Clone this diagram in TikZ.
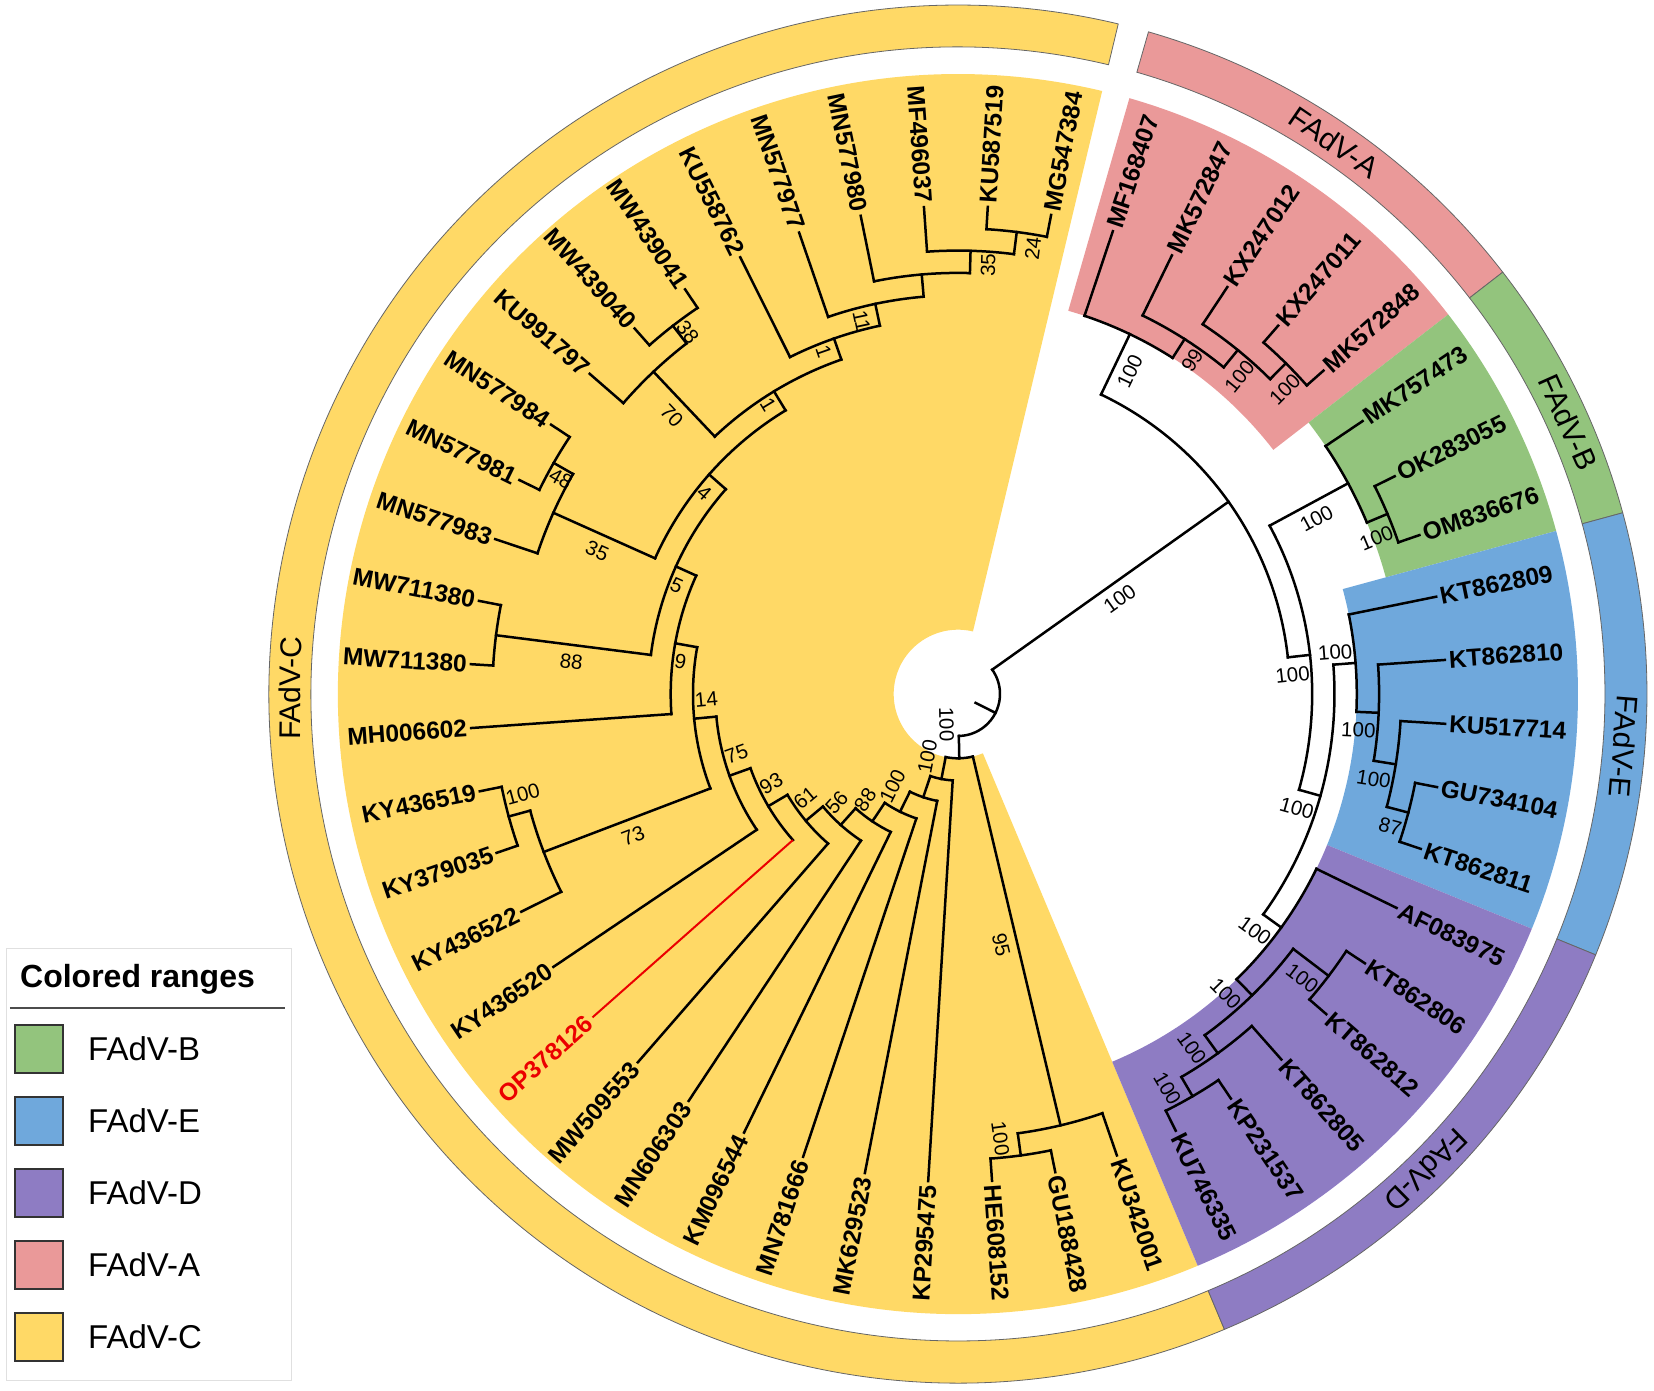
\documentclass[tikz,border=0pt]{standalone}
\usepackage{fontspec}
\setmainfont{Liberation Sans}
\usetikzlibrary{calc}
\definecolor{cA}{RGB}{234,153,153}
\definecolor{cB}{RGB}{147,196,125}
\definecolor{cC}{RGB}{255,217,102}
\definecolor{cD}{RGB}{142,124,195}
\definecolor{cE}{RGB}{111,168,220}
\definecolor{opred}{RGB}{235,0,0}
\tikzset{
 br/.style={line width=2.5pt, line cap=rect, black},
 lbl/.style={font=\fontsize{24.5}{28}\selectfont\bfseries, inner sep=0pt},
 bsl/.style={font=\fontsize{20.5}{24}\selectfont, inner sep=0pt},
 rlbl/.style={font=\fontsize{30}{34}\selectfont, inner sep=0pt},
 ringseg/.style={draw=black!60, line width=0.8pt},
 legtxt/.style={font=\fontsize{33}{38}\selectfont, inner sep=0pt, anchor=west},
 swatch/.style={draw=black!80, line width=1.5pt},
}
% arc of an internal node: from angle #1 to angle #2 at radius #3
\newcommand\brArc[3]{\draw[br] (#1:#3pt) arc[start angle=#1, end angle=#2, radius=#3pt];}
% radial stem at angle #1 from radius #2 to radius #3
\newcommand\brStem[3]{\draw[br] (#1:#2pt) -- (#1:#3pt);}
% leaf: name, angle, parent radius, text, flip
\newcommand\leafL[5]{\draw[br] (#2:#3pt) -- (#2:488pt);
 \ifnum#5=0 \node[lbl,rotate=#2,anchor=west] (#1) at (#2:492pt) {#4};
 \else \node[lbl,rotate=#2+180,anchor=east] (#1) at (#2:492pt) {#4};\fi}
% support value: angle, radius, text, rotation, offset direction, offset
\newcommand\bsLab[6]{\node[bsl,rotate=#4] at ($(#1:#2pt)+({#5}:#6pt)$) {#3};}
% annular sector: angle from, angle to, inner r, outer r
\newcommand\sector[4]{(#1:#3pt) arc[start angle=#1, end angle=#2, radius=#3pt] -- (#2:#4pt) arc[start angle=#2, end angle=#1, radius=#4pt] -- cycle}
\begin{document}
\begin{tikzpicture}[x=1pt,y=1pt]
\useasboundingbox (-958,-697) rectangle (696,694);
\fill[white] (-958,-697) rectangle (696,694);
% inner coloured ranges
\fill[cC] \sector{-283.45}{-67.25}{64.3}{620};
\fill[cA] \sector{37.75}{73.95}{398.8}{620};
\fill[cB] \sector{15.25}{37.75}{443.4}{620};
\fill[cE] \sector{-22.25}{15.25}{398.8}{620};
\fill[cD] \sector{-67.25}{-22.25}{398.8}{620};
% outer ring
\filldraw[ringseg, fill=cC] \sector{-283.45}{-67.25}{647}{689};
\filldraw[ringseg, fill=cA] \sector{37.75}{73.95}{647}{689};
\filldraw[ringseg, fill=cB] \sector{15.25}{37.75}{647}{689};
\filldraw[ringseg, fill=cE] \sector{-22.25}{15.25}{647}{689};
\filldraw[ringseg, fill=cD] \sector{-67.25}{-22.25}{647}{689};
\node[rlbl, rotate=89.5] (ringC) at (179.5:668pt) {FAdV-C};
\node[rlbl, rotate=-34.3] (ringA) at (55.7:668pt) {FAdV-A};
\node[rlbl, rotate=-66] (ringB) at (24:668pt) {FAdV-B};
\node[rlbl, rotate=-94.5] (ringE) at (-4.5:668pt) {FAdV-E};
\node[rlbl, rotate=-135.5] (ringD) at (-45.5:668pt) {FAdV-D};
% root
\brStem{-26.72}{19.7}{42}
\brArc{-88.84}{35.40}{42}
% ABED
\brStem{35.40}{42}{331.9}
\brArc{6.34}{64.47}{331.9}
% A
\brStem{64.47}{331.9}{398.8}
\brArc{57.4375}{71.5}{398.8}
\brStem{57.4375}{398.8}{421.1}
\brArc{50.875}{64}{421.1}
\brStem{50.875}{421.1}{443.4}
\brArc{45.25}{56.5}{443.4}
\brStem{45.25}{443.4}{465.7}
\brArc{41.5}{49}{465.7}
\leafL{l0}{71.5}{398.8}{MF168407}{0}
\leafL{l1}{64}{421.1}{MK572847}{0}
\leafL{l2}{56.5}{443.4}{KX247012}{0}
\leafL{l3}{49}{465.7}{KX247011}{0}
\leafL{l4}{41.5}{465.7}{MK572848}{0}
% BED
\brStem{6.34}{331.9}{354.2}
\brArc{-15.69}{28.375}{354.2}
\brStem{28.375}{354.2}{443.4}
\brArc{22.75}{34}{443.4}
\brStem{22.75}{443.4}{465.7}
\brArc{19}{26.5}{465.7}
\leafL{l5}{34}{443.4}{MK757473}{0}
\leafL{l6}{26.5}{465.7}{OK283055}{0}
\leafL{l7}{19}{465.7}{OM836676}{0}
% ED
\brStem{-15.69}{354.2}{376.5}
\brArc{-35.84}{4.469}{376.5}
% E
\brStem{4.469}{376.5}{398.8}
\brArc{-2.5625}{11.5}{398.8}
\brStem{-2.5625}{398.8}{421.1}
\brArc{-9.125}{4}{421.1}
\brStem{-9.125}{421.1}{443.4}
\brArc{-14.75}{-3.5}{443.4}
\brStem{-14.75}{443.4}{465.7}
\brArc{-18.5}{-11}{465.7}
\leafL{l8}{11.5}{398.8}{KT862809}{0}
\leafL{l9}{4}{421.1}{KT862810}{0}
\leafL{l10}{-3.5}{443.4}{KU517714}{0}
\leafL{l11}{-11}{465.7}{GU734104}{0}
\leafL{l12}{-18.5}{465.7}{KT862811}{0}
% D
\brStem{-35.84}{376.5}{398.8}
\brArc{-45.6875}{-26}{398.8}
\brStem{-45.6875}{398.8}{421.1}
\brArc{-54.125}{-37.25}{421.1}
\brStem{-37.25}{421.1}{465.7}
\brArc{-41}{-33.5}{465.7}
\brStem{-54.125}{421.1}{443.4}
\brArc{-59.75}{-48.5}{443.4}
\brStem{-59.75}{443.4}{465.7}
\brArc{-63.5}{-56}{465.7}
\leafL{l13}{-26}{398.8}{AF083975}{0}
\leafL{l14}{-33.5}{465.7}{KT862806}{0}
\leafL{l15}{-41}{465.7}{KT862812}{0}
\leafL{l16}{-48.5}{443.4}{KT862805}{0}
\leafL{l17}{-56}{465.7}{KP231537}{0}
\leafL{l18}{-63.5}{465.7}{KU746335}{0}
% C
\brStem{-88.84}{42}{64.3}
\brArc{-101.05}{-76.625}{64.3}
\brStem{-76.625}{64.3}{443.4}
\brArc{-82.25}{-71}{443.4}
\brStem{-82.25}{443.4}{465.7}
\brArc{-86}{-78.5}{465.7}
\leafL{l19}{-71}{443.4}{KU342001}{0}
\leafL{l20}{-78.5}{465.7}{GU188428}{0}
\leafL{l21}{-86}{465.7}{HE608152}{0}
% ladder
\brStem{-101.05}{64.3}{86.6}
\brArc{-108.61}{-93.5}{86.6}
\leafL{l22}{-93.5}{86.6}{KP295475}{1}
\brStem{-108.61}{86.6}{108.9}
\brArc{-116.21}{-101}{108.9}
\leafL{l23}{-101}{108.9}{MK629523}{1}
\brStem{-116.21}{108.9}{131.2}
\brArc{-123.93}{-108.5}{131.2}
\leafL{l24}{-108.5}{131.2}{MN781666}{1}
\brStem{-123.93}{131.2}{153.5}
\brArc{-131.85}{-116}{153.5}
\leafL{l25}{-116}{153.5}{KM096544}{1}
\brStem{-131.85}{153.5}{175.8}
\brArc{-140.21}{-123.5}{175.8}
\leafL{l26}{-123.5}{175.8}{MN606303}{1}
\brStem{-140.21}{175.8}{198.1}
\brArc{-149.41}{-131}{198.1}
\leafL{l27}{-131}{198.1}{MW509553}{1}
\brStem{-149.41}{198.1}{220.4}
\brArc{-160.32}{-138.5}{220.4}
\draw[line width=2pt, opred] (-138.5:220.4pt) -- (-138.5:488pt);
\node[lbl, text=opred, rotate=41.5, anchor=east] (l28) at (-138.5:492pt) {OP378126};
\brStem{-160.32}{220.4}{242.7}
\brArc{-174.65}{-146}{242.7}
\leafL{l29}{-146}{242.7}{KY436520}{1}
\brStem{-174.65}{242.7}{265}
\brArc{-190.17}{-159.125}{265}
\brStem{-159.125}{265}{443.4}
\brArc{-164.75}{-153.5}{443.4}
\leafL{l30}{-153.5}{443.4}{KY436522}{1}
\brStem{-164.75}{443.4}{465.7}
\brArc{-168.5}{-161}{465.7}
\leafL{l31}{-161}{465.7}{KY379035}{1}
\leafL{l32}{-168.5}{465.7}{KY436519}{1}
\brStem{-190.17}{265}{287.3}
\brArc{-204.33}{-176}{287.3}
\leafL{l33}{-176}{287.3}{MH006602}{1}
\brStem{-204.33}{287.3}{309.6}
\brArc{-221.41}{-187.25}{309.6}
\brStem{-187.25}{309.6}{465.7}
\brArc{-191}{-183.5}{465.7}
\leafL{l34}{-183.5}{465.7}{MW711380}{1}
\leafL{l35}{-191}{465.7}{MW711380}{1}
\brStem{-221.41}{309.6}{331.9}
\brArc{-238.70}{-204.125}{331.9}
\brStem{-204.125}{331.9}{443.4}
\brArc{-209.75}{-198.5}{443.4}
\leafL{l36}{-198.5}{443.4}{MN577983}{1}
\brStem{-209.75}{443.4}{465.7}
\brArc{-213.5}{-206}{465.7}
\leafL{l37}{-206}{465.7}{MN577981}{1}
\leafL{l38}{-213.5}{465.7}{MN577984}{1}
\brStem{-238.70}{331.9}{354.2}
\brArc{-250.77}{-226.625}{354.2}
\brStem{-226.625}{354.2}{443.4}
\brArc{-232.25}{-221}{443.4}
\leafL{l39}{-221}{443.4}{KU991797}{1}
\brStem{-232.25}{443.4}{465.7}
\brArc{-236}{-228.5}{465.7}
\leafL{l40}{-228.5}{465.7}{MW439040}{1}
\leafL{l41}{-236}{465.7}{MW439041}{1}
\brStem{-250.77}{354.2}{376.5}
\brArc{-258.03}{-243.5}{376.5}
\leafL{l42}{-243.5}{376.5}{KU558762}{1}
\brStem{-258.03}{376.5}{398.8}
\brArc{-265.06}{-251}{398.8}
\leafL{l43}{-251}{398.8}{MN577977}{1}
\brStem{-265.06}{398.8}{421.1}
\brArc{-271.625}{-258.5}{421.1}
\leafL{l44}{-258.5}{421.1}{MN577980}{1}
\brStem{-271.625}{421.1}{443.4}
\brArc{-277.25}{-266}{443.4}
\leafL{l45}{-266}{443.4}{MF496037}{1}
\brStem{-277.25}{443.4}{465.7}
\brArc{-281}{-273.5}{465.7}
\leafL{l46}{-273.5}{465.7}{KU587519}{0}
\leafL{l47}{-281}{465.7}{MG547384}{0}
% support values, right half
\bsLab{35.40}{187}{100}{35.40}{35.40-90}{16}
\bsLab{64.47}{365.4}{100}{64.47}{64.47-90}{16}
\bsLab{57.4375}{407.1}{99}{57.4375}{57.4375-90}{18}
\bsLab{50.875}{423.9}{100}{50.875}{50.875-90}{18}
\bsLab{45.25}{446.2}{100}{45.25}{45.25-90}{18}
\bsLab{6.34}{334.7}{100}{6.34}{6.34-90}{18}
\bsLab{28.375}{398.8}{100}{28.375}{28.375-90}{16}
\bsLab{22.75}{446.2}{100}{22.75}{22.75-90}{18}
\bsLab{-15.69}{357}{100}{-15.69}{-15.69-90}{18}
\bsLab{4.469}{379.3}{100}{4.469}{4.469+90}{12}
\bsLab{-2.5625}{401.6}{100}{-2.5625}{-2.5625-90}{18}
\bsLab{-9.125}{423.9}{100}{-9.125}{-9.125-90}{18}
\bsLab{-14.75}{451.7}{87}{-14.75}{-14.75-90}{18}
\bsLab{-35.84}{379.3}{100}{-35.84}{-35.84-90}{18}
\bsLab{-45.6875}{401.6}{100}{-45.6875}{-45.6875-90}{18}
\bsLab{-37.25}{446.2}{100}{-37.25}{-37.25-90}{18}
\bsLab{-54.125}{423.9}{100}{-54.125}{-54.125-90}{18}
\bsLab{-59.75}{446.2}{100}{-59.75}{-59.75-90}{18}
\bsLab{-82.25}{446.2}{100}{-82.25}{-82.25-90}{18}
\bsLab{-76.625}{253.9}{95}{-76.625}{-76.625-90}{16}
\bsLab{-88.84}{30}{100}{-88.84}{-88.84-90}{12}
\bsLab{82.75}{451.7}{24}{82.75}{82.75-90}{18}
\bsLab{88.375}{429.4}{35}{88.375}{88.375-90}{18}
% support values, lower left ladder
\bsLab{-101.05}{67.1}{100}{-101.05+180}{-101.05-90}{18}
\bsLab{-116.21}{111.7}{100}{-116.21+180}{-116.21-90}{18}
\bsLab{-123.93}{139.5}{88}{-123.93+180}{-123.93-90}{18}
\bsLab{-131.85}{161.8}{56}{-131.85+180}{-131.85-90}{18}
\bsLab{-140.21}{184.1}{61}{-140.21+180}{-140.21-90}{18}
\bsLab{-149.41}{206.4}{93}{-149.41+180}{-149.41-90}{18}
\bsLab{-160.32}{228.7}{75}{-160.32+180}{-160.32-90}{18}
\bsLab{-174.65}{251}{14}{-174.65+180}{-174.65-90}{18}
\bsLab{-164.75}{446.2}{100}{-164.75+180}{-164.75-90}{18}
% support values, upper left
\bsLab{169.83}{278.8}{9}{169.83+180}{169.83+90}{17}
\bsLab{155.67}{301.1}{5}{155.67+180}{155.67+90}{17}
\bsLab{138.59}{323.4}{4}{138.59+180}{138.59+90}{17}
\bsLab{121.30}{345.7}{1}{121.30+180}{121.30+90}{12}
\bsLab{109.23}{368}{1}{109.23+180}{109.23+90}{14}
\bsLab{101.97}{384.8}{11}{101.97+180}{101.97+90}{17}
\bsLab{150.25}{451.7}{48}{150.25+180}{150.25+90}{10}
\bsLab{127.75}{451.7}{38}{127.75+180}{127.75-90}{8}
\bsLab{172.75}{387.7}{88}{172.75+180}{172.75+90}{17}
\bsLab{-159.125}{354.2}{73}{-159.125+180}{-159.125+90}{17}
\bsLab{155.875}{387.7}{35}{155.875+180}{155.875+90}{17}
\bsLab{133.375}{398.8}{70}{133.375+180}{133.375+90}{17}
% legend
\draw[black!12, line width=1pt] (-951,-254) rectangle (-666,-686);
\node[font=\fontsize{32}{36}\selectfont\bfseries, anchor=base west, inner sep=0pt] (legtitle) at (-938,-293) {Colored ranges};
\draw[black!70, line width=1.5pt] (-948,-314) -- (-673,-314);
\filldraw[swatch, fill=cB] (-943,-331) rectangle (-895,-379);
\node[legtxt] (legB) at (-870,-355) {FAdV-B};
\filldraw[swatch, fill=cE] (-943,-403) rectangle (-895,-451);
\node[legtxt] (legE) at (-870,-427) {FAdV-E};
\filldraw[swatch, fill=cD] (-943,-475) rectangle (-895,-523);
\node[legtxt] (legD) at (-870,-499) {FAdV-D};
\filldraw[swatch, fill=cA] (-943,-547) rectangle (-895,-595);
\node[legtxt] (legA) at (-870,-571) {FAdV-A};
\filldraw[swatch, fill=cC] (-943,-619) rectangle (-895,-667);
\node[legtxt] (legC) at (-870,-643) {FAdV-C};
\end{tikzpicture}
\end{document}
